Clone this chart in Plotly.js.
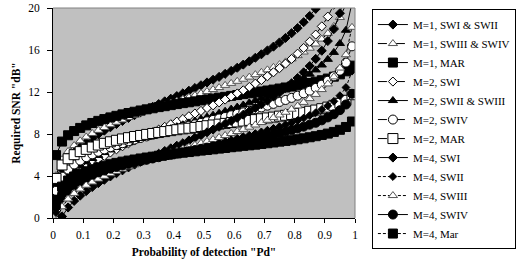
<!DOCTYPE html>
<html><head><meta charset="utf-8">
<script src="https://cdn.plot.ly/plotly-3.0.1.min.js"></script>
<style>html,body{margin:0;padding:0;background:#fff;} #chart{width:524px;height:259px;}</style>
</head><body><div id="chart"></div>
<script>
const pdValues = [0.01,0.03,0.05,0.07,0.09,0.11,0.13,0.15,0.17,0.19,0.21,0.23,0.25,0.27,0.29,0.31,0.33,0.35,0.37,0.39,0.41,0.43,0.45,0.47,0.49,
  0.51,0.53,0.55,0.57,0.59,0.61,0.63,0.65,0.67,0.69,0.71,0.73,0.75,0.77,0.79,0.81,0.83,0.85,0.87,0.89,0.91,0.93,0.95,0.97,0.99];

const m1SW12 = [3.01,4.68,5.58,6.23,6.76,7.21,7.61,7.98,8.32,8.64,8.95,9.24,9.53,9.80,10.07,10.33,10.59,10.85,11.11,11.36,11.61,11.87,12.12,12.38,12.64,
  12.91,13.17,13.44,13.73,14.01,14.31,14.61,14.92,15.26,15.59,15.95,16.32,16.72,17.15,17.60,18.09,18.65,19.24,19.92,20.70,21.63,22.77,24.29,26.56,31.38];
const m1SW34 = [4.04,5.56,6.34,6.90,7.35,7.72,8.05,8.35,8.62,8.88,9.12,9.34,9.57,9.78,9.98,10.18,10.37,10.56,10.76,10.94,11.12,11.31,11.49,11.67,11.86,
  12.05,12.23,12.42,12.63,12.82,13.02,13.22,13.42,13.65,13.87,14.11,14.35,14.61,14.87,15.15,15.46,15.81,16.17,16.57,17.04,17.58,18.25,19.10,20.35,22.95];
const m1MAR = [5.99,7.28,7.88,8.28,8.58,8.82,9.05,9.25,9.42,9.58,9.73,9.87,10.00,10.12,10.24,10.35,10.45,10.56,10.65,10.75,10.85,10.94,11.02,11.11,11.20,
  11.29,11.37,11.46,11.54,11.63,11.71,11.80,11.88,11.96,12.05,12.14,12.23,12.33,12.43,12.52,12.63,12.74,12.86,12.98,13.12,13.28,13.46,13.68,13.97,14.51];
const m2SW1 = [0.73,2.35,3.22,3.86,4.38,4.82,5.22,5.59,5.92,6.24,6.54,6.83,7.11,7.38,7.65,7.91,8.17,8.42,8.68,8.93,9.18,9.43,9.69,9.95,10.20,
  10.47,10.73,11.01,11.28,11.57,11.86,12.16,12.48,12.80,13.14,13.50,13.88,14.27,14.70,15.15,15.65,16.19,16.79,17.47,18.25,19.18,20.32,21.84,24.10,28.90];
const m2SW23 = [1.80,3.26,4.01,4.55,4.98,5.35,5.67,5.96,6.23,6.48,6.72,6.94,7.16,7.37,7.57,7.76,7.96,8.14,8.33,8.51,8.70,8.88,9.06,9.24,9.42,
  9.61,9.79,9.98,10.17,10.37,10.56,10.76,10.97,11.19,11.41,11.64,11.88,12.14,12.41,12.69,13.00,13.33,13.70,14.10,14.57,15.11,15.77,16.62,17.88,20.47];
const m2SW4 = [2.59,3.94,4.62,5.10,5.47,5.79,6.06,6.31,6.53,6.74,6.94,7.12,7.30,7.47,7.62,7.77,7.93,8.07,8.22,8.36,8.51,8.65,8.79,8.92,9.06,
  9.21,9.34,9.48,9.62,9.78,9.92,10.06,10.21,10.37,10.53,10.70,10.87,11.05,11.24,11.44,11.65,11.87,12.12,12.39,12.70,13.07,13.49,14.03,14.80,16.35];
const m2MAR = [3.77,5.05,5.64,6.03,6.32,6.54,6.76,6.95,7.11,7.26,7.40,7.53,7.65,7.76,7.86,7.96,8.05,8.15,8.23,8.32,8.41,8.49,8.55,8.63,8.71,
  8.79,8.86,8.94,9.01,9.09,9.15,9.23,9.30,9.37,9.45,9.53,9.61,9.70,9.78,9.86,9.96,10.06,10.17,10.28,10.41,10.56,10.73,10.93,11.21,11.74];
const m4SW1 = [-1.42,0.15,1.00,1.63,2.13,2.56,2.95,3.32,3.64,3.96,4.26,4.54,4.82,5.09,5.36,5.62,5.87,6.12,6.38,6.63,6.88,7.12,7.38,7.64,7.89,
  8.16,8.42,8.69,8.96,9.25,9.54,9.84,10.16,10.48,10.82,11.18,11.56,11.95,12.38,12.83,13.33,13.87,14.47,15.15,15.93,16.85,17.99,19.50,21.78,26.60];
const m4SW2 = [0.51,1.79,2.44,2.90,3.26,3.56,3.83,4.07,4.28,4.49,4.67,4.85,5.02,5.18,5.34,5.49,5.64,5.79,5.93,6.07,6.21,6.35,6.48,6.62,6.76,
  6.89,7.03,7.17,7.31,7.45,7.59,7.74,7.89,8.04,8.20,8.36,8.53,8.70,8.88,9.08,9.29,9.52,9.77,10.03,10.33,10.69,11.11,11.65,12.43,13.98];
const m4SW3 = [-0.32,1.07,1.81,2.34,2.76,3.12,3.43,3.71,3.97,4.22,4.44,4.66,4.87,5.07,5.27,5.46,5.65,5.85,6.03,6.21,6.39,6.58,6.75,6.94,7.12,
  7.30,7.48,7.67,7.86,8.05,8.24,8.44,8.65,8.86,9.09,9.31,9.56,9.81,10.07,10.36,10.67,11.01,11.37,11.77,12.23,12.77,13.44,14.28,15.55,18.16];
const m4SW4 = [1.07,2.29,2.89,3.31,3.63,3.90,4.13,4.34,4.52,4.70,4.86,5.01,5.16,5.29,5.43,5.55,5.67,5.79,5.91,6.02,6.14,6.25,6.36,6.47,6.59,
  6.70,6.81,6.92,7.03,7.14,7.25,7.37,7.48,7.60,7.72,7.84,7.97,8.10,8.23,8.38,8.53,8.70,8.89,9.07,9.30,9.58,9.88,10.27,10.81,11.83];
const m4MAR = [1.72,2.99,3.57,3.95,4.23,4.45,4.65,4.83,4.98,5.12,5.25,5.37,5.47,5.57,5.67,5.76,5.84,5.93,6.00,6.07,6.15,6.22,6.28,6.35,6.42,
  6.48,6.54,6.61,6.67,6.74,6.80,6.87,6.92,6.98,7.05,7.12,7.19,7.27,7.34,7.41,7.50,7.59,7.69,7.79,7.91,8.04,8.20,8.40,8.67,9.19];

const seriesNames = ["M=1, SWI & SWII","M=1, SWIII & SWIV","M=1, MAR","M=2, SWI","M=2, SWII & SWIII","M=2, SWIV","M=2, MAR",
  "M=4, SWI","M=4, SWII","M=4, SWIII","M=4, SWIV","M=4, Mar"];
const seriesValues = [m1SW12,m1SW34,m1MAR,m2SW1,m2SW23,m2SW4,m2MAR,m4SW1,m4SW2,m4SW3,m4SW4,m4MAR];

const styles = [
  {sym:'diamond', size:7, fill:'#000', edge:'#000', dash:'solid'},
  {sym:'triangle-up', size:8, fill:'#fff', edge:'#555', dash:'dashdot'},
  {sym:'square', size:9, fill:'#000', edge:'#000', dash:'solid'},
  {sym:'diamond', size:7, fill:'#fff', edge:'#000', dash:'dashdot'},
  {sym:'triangle-up', size:8, fill:'#000', edge:'#000', dash:'solid'},
  {sym:'circle', size:9, fill:'#fff', edge:'#000', dash:'dashdot'},
  {sym:'square', size:10, fill:'#fff', edge:'#000', dash:'dashdot'},
  {sym:'diamond', size:7, fill:'#000', edge:'#000', dash:'solid'},
  {sym:'diamond', size:6, fill:'#000', edge:'#000', dash:'3px,2px'},
  {sym:'triangle-up', size:8, fill:'#fff', edge:'#555', dash:'3px,2px'},
  {sym:'circle', size:9, fill:'#000', edge:'#000', dash:'solid'},
  {sym:'square', size:9, fill:'#000', edge:'#000', dash:'3px,2px'}
];

const traces = seriesValues.map((ys, i) => ({
  type:'scatter', mode:'lines+markers', name:seriesNames[i],
  x: pdValues, y: ys,
  line:{color:'#000', width:1, dash:styles[i].dash},
  marker:{symbol:styles[i].sym, size:styles[i].size, color:styles[i].fill, line:{color:styles[i].edge, width:1}}
}));

const serif = 'Liberation Serif, Times New Roman, serif';
const layout = {
  width:524, height:259,
  margin:{l:53, r:167, t:8, b:41},
  paper_bgcolor:'#fff', plot_bgcolor:'#c0c0c0',
  font:{family:serif, size:11, color:'#000'},
  showlegend:true,
  legend:{x:1.056, y:0.995, xanchor:'left', yanchor:'top', bordercolor:'#000', borderwidth:1, bgcolor:'#fff',
    font:{family:serif, size:11, color:'#000'}, tracegroupgap:0, maxheight:256},
  xaxis:{range:[0,1], dtick:0.1, tick0:0, ticks:'outside', ticklen:4, tickcolor:'#000', showline:true, linecolor:'#000', linewidth:1,
    showgrid:false, zeroline:false, ticklabelstandoff:2, tickfont:{family:serif, size:11.5, color:'#000'},
    title:{text:'Probability of detection "Pd"', font:{family:serif, size:11.5, color:'#000', weight:'bold'}, standoff:8}},
  yaxis:{range:[0,20], dtick:4, tick0:0, ticks:'outside', ticklen:5, tickcolor:'#000', showline:true, linecolor:'#000', linewidth:1,
    showgrid:false, zeroline:false, ticklabelstandoff:5, tickfont:{family:serif, size:11.5, color:'#000'},
    title:{text:'Required SNR "dB"', font:{family:serif, size:11.5, color:'#000', weight:'bold'}, standoff:5}},
  shapes:[
    {type:'line', xref:'paper', yref:'paper', x0:0, x1:1, y0:1, y1:1, line:{color:'#808080', width:1}},
    {type:'line', xref:'paper', yref:'paper', x0:1, x1:1, y0:0, y1:1, line:{color:'#808080', width:1}}
  ]
};
Plotly.newPlot('chart', traces, layout, {staticPlot:true});
</script></body></html>
